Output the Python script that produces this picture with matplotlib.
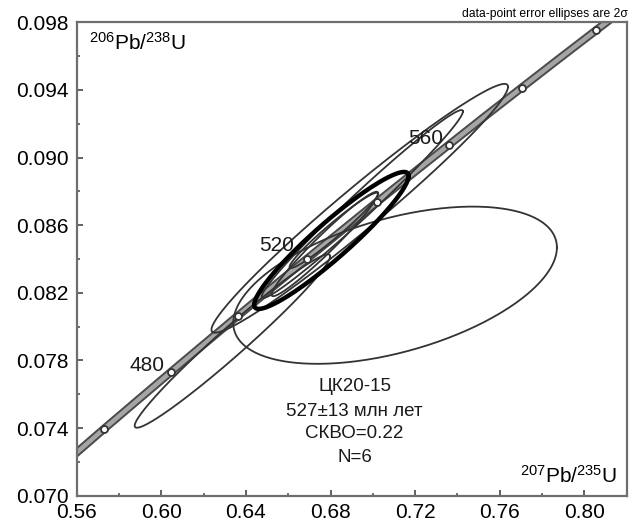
import numpy as np
import matplotlib.pyplot as plt
from matplotlib.ticker import FormatStrFormatter

plt.rcParams['font.family'] = ['Liberation Sans', 'DejaVu Sans']
plt.rcParams['mathtext.fontset'] = 'custom'
plt.rcParams['mathtext.rm'] = 'Liberation Sans'
plt.rcParams['mathtext.it'] = 'Liberation Sans:italic'

# Concordia curve (age in Ma, 207Pb/235U, 206Pb/238U)
conc_age = [440, 450, 460, 470, 480, 490, 500, 510, 520, 530, 540, 550, 560, 570, 580, 590, 600, 610]
conc_x = [0.54239, 0.55766, 0.57307, 0.58864, 0.60436, 0.62024, 0.63628, 0.65247, 0.66883,
          0.68535, 0.70203, 0.71887, 0.73588, 0.75307, 0.77042, 0.78794, 0.80563, 0.82350]
conc_y = [0.07064, 0.07230, 0.07397, 0.07563, 0.07730, 0.07897, 0.08065, 0.08233, 0.08401,
          0.08569, 0.08738, 0.08906, 0.09075, 0.09245, 0.09414, 0.09584, 0.09754, 0.09925]
marker_ages = [460, 480, 500, 520, 540, 560, 580, 600]
label_ages = [480, 520, 560]

# data-point error ellipses (2 sigma): centre, half-widths, error correlation
ell_x = [0.7105, 0.6938, 0.6950, 0.6336, 0.6773, 0.6815]
ell_y = [0.08245, 0.0870, 0.08725, 0.07915, 0.08489, 0.08569]
ell_sx = [0.0765, 0.0701, 0.04757, 0.0462, 0.0252, 0.0209]
ell_sy = [0.00465, 0.00736, 0.00556, 0.00513, 0.00309, 0.00223]
ell_rho = [0.48, 0.976, 0.985, 0.977, 0.970, 0.970]

# concordia age ellipse
age_ell = (0.6804, 0.0851, 0.0365, 0.00405, 0.94)

xticks = [0.56, 0.60, 0.64, 0.68, 0.72, 0.76, 0.80]
yticks = [0.070, 0.074, 0.078, 0.082, 0.086, 0.090, 0.094, 0.098]

ann_lines = ["ЦК20-15", "527±13 млн лет", "СКВО=0.22", "N=6"]


def ellipse_xy(x0, y0, sx, sy, rho, n=300):
    t = np.linspace(0, 2 * np.pi, n)
    cov = np.array([[sx ** 2, rho * sx * sy], [rho * sx * sy, sy ** 2]])
    L = np.linalg.cholesky(cov)
    pts = L @ np.vstack([np.cos(t), np.sin(t)])
    return x0 + pts[0], y0 + pts[1]


fig = plt.figure(figsize=(6.36, 5.24), dpi=100)
ax = fig.add_axes([0.1206, 0.054, 0.8648, 0.9034])

# concordia band
ax.plot(conc_x, conc_y, color="#4a4a4a", lw=6.0, solid_capstyle="butt", zorder=2)
ax.plot(conc_x, conc_y, color="#a5a5a5", lw=3.2, solid_capstyle="butt", zorder=2)

for x0, y0, sx, sy, r in zip(ell_x, ell_y, ell_sx, ell_sy, ell_rho):
    ex, ey = ellipse_xy(x0, y0, sx, sy, r)
    ax.plot(ex, ey, color="#333333", lw=1.3, zorder=3)

ex, ey = ellipse_xy(*age_ell)
ax.plot(ex, ey, color="black", lw=3.2, zorder=4)

mx = [conc_x[conc_age.index(a)] for a in marker_ages]
my = [conc_y[conc_age.index(a)] for a in marker_ages]
ax.plot(mx, my, "o", ms=5, mfc="white", mec="#333333", mew=1.3, zorder=5)

for a in label_ages:
    i = conc_age.index(a)
    off = (-4, 1) if a != 520 else (-9, 6)
    ax.annotate(str(a), (conc_x[i], conc_y[i]), xytext=off, textcoords="offset points",
                ha="right", va="baseline", fontsize=15, color="#1a1a1a", zorder=6)

ax.set_xlim(0.56, 0.82)
ax.set_ylim(0.070, 0.098)
ax.set_xticks(xticks)
ax.set_xticks([v + 0.02 for v in xticks], minor=True)
ax.set_yticks(yticks)
ax.set_yticks([v + 0.002 for v in yticks[:-1]], minor=True)
ax.xaxis.set_major_formatter(FormatStrFormatter("%.2f"))
ax.yaxis.set_major_formatter(FormatStrFormatter("%.3f"))
ax.tick_params(which="major", direction="in", length=4, width=1.3, color="#555555", labelsize=15)
ax.tick_params(which="minor", direction="in", length=2.5, width=1.2, color="#555555")
ax.tick_params(axis="x", which="major", pad=5.5)
ax.tick_params(axis="y", which="major", pad=6)
for s in ax.spines.values():
    s.set_color("#6e6e6e")
    s.set_linewidth(1.6)

ax.text(0.0224, 0.9415, r"$^{206}\mathrm{Pb/}^{238}\mathrm{U}$", transform=ax.transAxes,
        fontsize=15, ha="left", va="baseline")
ax.text(0.9824, 0.0268, r"$^{207}\mathrm{Pb/}^{235}\mathrm{U}$", transform=ax.transAxes,
        fontsize=15, ha="right", va="baseline")

ann_y = [0.07647, 0.07497, 0.07365, 0.07227]
for txt, yy in zip(ann_lines, ann_y):
    ax.text(0.6914, yy, txt, fontsize=13.5, ha="center", va="center", color="#1a1a1a")

fig.text(0.9874, 0.973, "data-point error ellipses are 2σ", fontsize=8.7, ha="right", va="center")

fig.savefig("out.png", dpi=100)
